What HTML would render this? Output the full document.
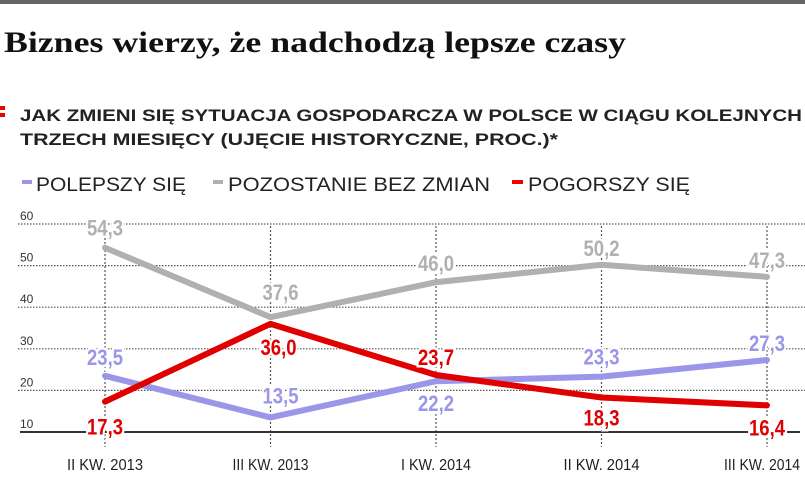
<!DOCTYPE html>
<html><head><meta charset="utf-8">
<style>
body{margin:0;background:#fff;width:805px;height:495px;overflow:hidden;font-family:"Liberation Sans",sans-serif;}
</style></head>
<body>
<svg width="805" height="495" viewBox="0 0 805 495" xmlns="http://www.w3.org/2000/svg">
<rect x="0" y="0" width="805" height="4" fill="#666"/>
<text x="4" y="52" font-family="Liberation Serif, serif" font-weight="bold" font-size="30" fill="#111" textLength="622" lengthAdjust="spacingAndGlyphs">Biznes wierzy, że nadchodzą lepsze czasy</text>
<rect x="0" y="106" width="5" height="4" fill="#e00"/>
<rect x="0" y="113" width="5" height="4" fill="#e00"/>
<text x="20" y="121" font-weight="bold" font-size="17" fill="#222" textLength="782" lengthAdjust="spacingAndGlyphs">JAK ZMIENI SIĘ SYTUACJA GOSPODARCZA W POLSCE W CIĄGU KOLEJNYCH</text>
<text x="20" y="145" font-weight="bold" font-size="17" fill="#222" textLength="538" lengthAdjust="spacingAndGlyphs">TRZECH MIESIĘCY (UJĘCIE HISTORYCZNE, PROC.)*</text>
<g font-size="19" fill="#222">
<rect x="22" y="180" width="10" height="4" fill="#9b96e8"/>
<text x="36" y="191" textLength="150" lengthAdjust="spacingAndGlyphs">POLEPSZY SIĘ</text>
<rect x="213" y="180" width="10" height="4" fill="#b0b0b0"/>
<text x="228" y="191" textLength="262" lengthAdjust="spacingAndGlyphs">POZOSTANIE BEZ ZMIAN</text>
<rect x="512" y="180" width="11" height="4" fill="#e00"/>
<text x="528" y="191" textLength="162" lengthAdjust="spacingAndGlyphs">POGORSZY SIĘ</text>
</g>
<g id="plot"></g>
</svg>
<script>
const categories=["II KW. 2013","III KW. 2013","I KW. 2014","II KW. 2014","III KW. 2014"];
const polepszy=[23.5,13.5,22.2,23.3,27.3];
const bezZmian=[54.3,37.6,46.0,50.2,47.3];
const pogorszy=[17.3,36.0,23.7,18.3,16.4];
const yTicks=[10,20,30,40,50,60];
const ns="http://www.w3.org/2000/svg";
const g=document.getElementById('plot');
function x(i){return 105+i*165.5;}
function y(v){return 432-(v-10)*4.16;}
function el(t,a){const e=document.createElementNS(ns,t);for(const k in a)e.setAttribute(k,a[k]);g.appendChild(e);return e;}
yTicks.forEach(t=>{
 if(t>10){const l=el('line',{x1:18,x2:805,y1:y(t),y2:y(t),stroke:'#555','stroke-width':1.2,'stroke-dasharray':'1.5 1.5'});
 
 }
 const tx=el('text',{x:20,y:y(t)-4,'font-size':12,fill:'#333'});tx.textContent=t;
 
 
});
categories.forEach((c,i)=>{
 const l=el('line',{x1:x(i),x2:x(i),y1:y(60)+2,y2:447,stroke:'#555','stroke-width':1.2,'stroke-dasharray':'2 2'});
 
 
 const w=Math.min(76,c.length*7);
 const t=el('text',{x:Math.min(x(i),800-w/2),y:470,'font-size':16,fill:'#222','text-anchor':'middle',textLength:w,lengthAdjust:'spacingAndGlyphs'});t.textContent=c;
 
 
});
const base=el('line',{x1:20,x2:800,y1:y(10),y2:y(10),stroke:'#333','stroke-width':2});


const series=[
 {name:'bez-zmian',d:bezZmian,c:'#b0b0b0',off:[[0,-20],[10,-25],[0,-19],[0,-17],[0,-17]]},
 {name:'polepszy',d:polepszy,c:'#9b96e8',off:[[0,-19],[10,-22],[0,22],[0,-20],[0,-17]]},
 {name:'pogorszy',d:pogorszy,c:'#e00000',off:[[0,25],[8,23],[0,-18],[0,20],[0,22]]}
];
series.forEach(s=>{
 const p=el('polyline',{points:s.d.map((v,i)=>x(i)+','+y(v)).join(' '),fill:'none',stroke:s.c,'stroke-width':6,'stroke-linejoin':'round','stroke-linecap':'round'});
 
 
});
series.forEach(s=>{
 s.d.forEach((v,i)=>{
  const t=el('text',{x:x(i)+s.off[i][0],y:y(v)+s.off[i][1]+8,'font-size':22,'font-weight':'bold',fill:s.c,'text-anchor':'middle',stroke:'#fff','stroke-width':5,'paint-order':'stroke',textLength:36,lengthAdjust:'spacingAndGlyphs'});
  t.textContent=v.toFixed(1).replace('.',',');
  
  
 });
});
</script>
</body></html>
